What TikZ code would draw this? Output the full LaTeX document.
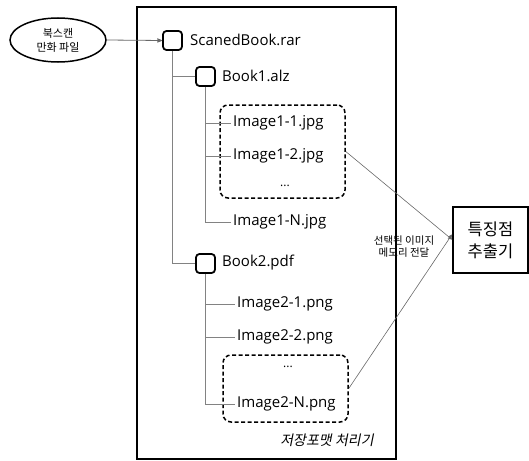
\documentclass[tikz,border=0pt]{standalone}
\usepackage{fontspec}
\setmainfont{Open Sans}
\newfontfamily\kr{Noto Sans CJK KR}
\newfontfamily\krslant[FakeSlant=0.2]{Noto Sans CJK KR}
\usetikzlibrary{arrows,shapes}
\definecolor{treeline}{RGB}{130,130,130}
\tikzset{
  folder/.style={draw,rectangle,rounded corners=3.5pt,line width=1.8pt,minimum width=19pt,minimum height=19pt,inner sep=0},
  fname/.style={anchor=west,inner sep=2pt,font=\fontsize{15}{18}\selectfont},
  group/.style={draw,dashed,dash pattern=on 4pt off 2.5pt,rounded corners=8pt,line width=1.5pt},
  branch/.style={draw=treeline,line width=0.8pt},
}
\begin{document}
\begin{tikzpicture}[x=1pt,y=-1pt]
\useasboundingbox (0,0) rectangle (529,460);
%storage format handler frame
\node (frame) at (266.5,233) [draw,line width=2.2pt,minimum width=259pt,minimum height=452pt] {};
\node (handler) at (327,440) [font=\krslant\fontsize{14}{16}\selectfont] {저장포맷 처리기};

%source and extractor
\node (source) at (58,40) [draw,ellipse,line width=1.5pt,minimum width=96pt,minimum height=44pt,inner sep=0,align=center,font=\kr\fontsize{11}{14}\selectfont] {북스캔\\만화 파일};
\node (extractor) at (490.5,240) [draw,rectangle,line width=2pt,minimum width=75pt,minimum height=66pt,align=center,font=\kr\fontsize{16.5}{22}\selectfont] {특징점\\추출기};

%folder boxes
\node (scanbox) at (172.5,40.5) [folder] {};
\node (book1box) at (205.5,76.5) [folder] {};
\node (book2box) at (205.5,263.5) [folder] {};
\node (scan) at (188,40) [fname] {ScanedBook.rar};
\node (book1) at (220,76) [fname] {Book1.alz};
\node (book2) at (220,263) [fname] {Book2.pdf};

%selected image groups
\node (group1) at (282.5,151.5) [group,minimum width=125pt,minimum height=93pt] {};
\node (group2) at (285.5,388.5) [group,minimum width=125pt,minimum height=67pt] {};

%image files
\foreach \n/\y in {1/123,2/156,N/222}{
  \node (img1\n) at (231,\y) [fname] {Image1-\n.jpg};
}
\foreach \n/\y in {1/304,2/337,N/404}{
  \node (img2\n) at (235,\y) [fname] {Image2-\n.png};
}
\node (dots1) at (285,186) [font=\fontsize{12}{14}\selectfont] {...};
\node (dots2) at (288,367) [font=\fontsize{12}{14}\selectfont] {...};

%tree lines
\draw [branch] (scanbox.south) |- (book1box.west);
\draw [branch] (scanbox.south) |- (book2box.west);
\foreach \i in {img11,img12,img1N}{
  \draw [branch] (book1box.south) |- (\i.west);
}
\foreach \i in {img21,img22,img2N}{
  \draw [branch] (book2box.south) |- (\i.west);
}

%connectors
\draw [->,>=stealth',draw=treeline!80!black,line width=0.8pt] (source.east) -- (scanbox.west);
\draw [->,>=stealth',draw=treeline!80!black,line width=0.6pt] (group1.east) -- ([yshift=0.5pt]extractor.west);
\draw [->,>=stealth',draw=treeline!80!black,line width=0.6pt] (group2.east) -- ([yshift=5.5pt]extractor.west);
\node (transfer) at (404,247) [align=center,font=\kr\fontsize{10.5}{12}\selectfont] {선택된 이미지\\메모리 전달};
\end{tikzpicture}
\end{document}
